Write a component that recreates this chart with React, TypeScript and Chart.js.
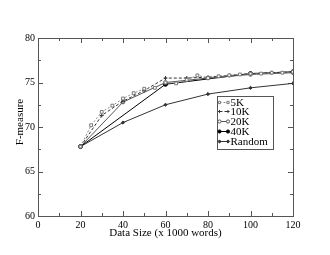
import React, { useEffect, useRef } from "react";
import { Chart, registerables } from "chart.js";
Chart.register(...registerables);

const sizes5K = [20, 25, 30, 35, 40, 45, 50, 55, 60, 65, 70, 75, 80, 85, 90, 95, 100, 105, 110, 115, 120];
const values5K = [67.8, 70.2, 71.7, 72.4, 73.2, 73.8, 74.3, 74.4, 75.0, 74.9, 75.3, 75.8, 75.5, 75.7, 75.8, 75.9, 76.0, 76.0, 76.1, 76.1, 76.2];
const sizes10K = [20, 30, 40, 50, 60, 70, 80, 90, 100, 110, 120];
const values10K = [67.8, 71.3, 72.9, 74.1, 75.5, 75.5, 75.6, 75.8, 76.0, 76.1, 76.2];
const sizes20K = [20, 40, 60, 80, 100, 120];
const values20K = [67.8, 72.8, 75.0, 75.5, 75.9, 76.1];
const sizes40K = [20, 60, 100, 120];
const values40K = [67.8, 74.8, 76.0, 76.2];
const sizesRandom = [20, 40, 60, 80, 100, 120];
const valuesRandom = [67.8, 70.5, 72.5, 73.7, 74.4, 74.9];

const seriesLabels = ["5K", "10K", "20K", "40K", "Random"];
const xTitle = "Data Size (x 1000 words)";
const yTitle = "F-measure";

const FONT = "'Liberation Serif', 'Times New Roman', serif";
const FRAME = "#555";

const pts = (xs: number[], ys: number[]) => xs.map((x, i) => ({ x, y: ys[i] }));

function drawMarker(ctx: CanvasRenderingContext2D, style: string, x: number, y: number, r: number, fill: string, stroke: string) {
  ctx.save();
  ctx.strokeStyle = stroke;
  ctx.fillStyle = fill;
  ctx.lineWidth = 1;
  ctx.setLineDash([]);
  ctx.beginPath();
  if (style === "rect") {
    const s = r * 1.4;
    ctx.rect(x - s / 2, y - s / 2, s, s);
    ctx.fill();
    ctx.stroke();
  } else if (style === "cross") {
    ctx.moveTo(x - r, y);
    ctx.lineTo(x + r, y);
    ctx.moveTo(x, y - r);
    ctx.lineTo(x, y + r);
    ctx.stroke();
  } else if (style === "rectRot") {
    ctx.moveTo(x, y - r);
    ctx.lineTo(x + r, y);
    ctx.lineTo(x, y + r);
    ctx.lineTo(x - r, y);
    ctx.closePath();
    ctx.fill();
    ctx.stroke();
  } else {
    ctx.arc(x, y, r, 0, Math.PI * 2);
    ctx.fill();
    ctx.stroke();
  }
  ctx.restore();
}

const framePlugin = {
  id: "frameTicks",
  beforeDatasetsDraw(chart: any) {
    const { ctx, chartArea: a, scales } = chart;
    const xs = scales.x;
    const ys = scales.y;
    ctx.save();
    ctx.strokeStyle = FRAME;
    ctx.lineWidth = 1;
    ctx.strokeRect(Math.round(a.left) + 0.5, Math.round(a.top) + 0.5, Math.round(a.right - a.left), Math.round(a.bottom - a.top));
    ctx.beginPath();
    for (let v = xs.min; v <= xs.max + 1e-6; v += 10) {
      const px = Math.round(xs.getPixelForValue(v)) + 0.5;
      const len = v % 20 === 0 ? 5 : 3;
      ctx.moveTo(px, a.bottom);
      ctx.lineTo(px, a.bottom - len);
      ctx.moveTo(px, a.top);
      ctx.lineTo(px, a.top + len);
    }
    for (let v = ys.min; v <= ys.max + 1e-6; v += 2.5) {
      const py = Math.round(ys.getPixelForValue(v)) + 0.5;
      const len = v % 5 === 0 ? 5 : 3;
      ctx.moveTo(a.left, py);
      ctx.lineTo(a.left + len, py);
      ctx.moveTo(a.right, py);
      ctx.lineTo(a.right - len, py);
    }
    ctx.stroke();
    // y-axis title (drawn here to match the original's placement)
    ctx.fillStyle = "#000";
    ctx.font = `11px ${FONT}`;
    ctx.textAlign = "center";
    ctx.textBaseline = "middle";
    ctx.translate(20, (a.top + a.bottom) / 2 - 5);
    ctx.rotate(-Math.PI / 2);
    ctx.fillText(yTitle, 0, 0);
    ctx.restore();
  },
};

const legendPlugin = {
  id: "boxLegend",
  afterDraw(chart: any) {
    const { ctx, chartArea: a } = chart;
    const bx = a.right - 76;
    const by = a.top + 58;
    const bw = 56;
    const bh = 53;
    ctx.save();
    ctx.fillStyle = "#fff";
    ctx.fillRect(bx, by, bw, bh);
    ctx.strokeStyle = FRAME;
    ctx.lineWidth = 1;
    ctx.strokeRect(bx + 0.5, by + 0.5, bw, bh);
    ctx.font = `11px ${FONT}`;
    ctx.textBaseline = "middle";
    ctx.textAlign = "left";
    chart.data.datasets.forEach((ds: any, i: number) => {
      const y = Math.round(by + 5.5 + i * 9.8) + 0.5;
      const x1 = bx + 2.5;
      const x2 = bx + 11;
      ctx.save();
      ctx.strokeStyle = ds.borderColor;
      ctx.lineWidth = 1;
      ctx.setLineDash(ds.borderDash || []);
      ctx.beginPath();
      ctx.moveTo(x1, y);
      ctx.lineTo(x2, y);
      ctx.stroke();
      ctx.restore();
      const r = Math.min(ds.pointRadius, 1.6);
      drawMarker(ctx, ds.pointStyle, x1, y, r, ds.pointBackgroundColor, ds.pointBorderColor);
      drawMarker(ctx, ds.pointStyle, x2, y, r, ds.pointBackgroundColor, ds.pointBorderColor);
      ctx.fillStyle = "#000";
      ctx.fillText(ds.label, bx + 13.5, y + 0.5);
    });
    ctx.restore();
  },
};

export default function App() {
  const ref = useRef<HTMLCanvasElement | null>(null);
  useEffect(() => {
    document.body.style.margin = "0";
    const canvas = ref.current!;
    const chart = new Chart(canvas, {
      type: "line",
      data: {
        datasets: [
          {
            label: seriesLabels[0],
            data: pts(sizes5K, values5K),
            borderColor: "#8a8a8a",
            borderDash: [2, 2],
            borderWidth: 1,
            pointStyle: "rect",
            pointRadius: 2,
            pointBackgroundColor: "#fff",
            pointBorderColor: "#777",
            pointBorderWidth: 1,
          },
          {
            label: seriesLabels[1],
            data: pts(sizes10K, values10K),
            borderColor: "#333",
            borderDash: [3, 2],
            borderWidth: 1,
            pointStyle: "cross",
            pointRadius: 2,
            pointBackgroundColor: "#333",
            pointBorderColor: "#333",
            pointBorderWidth: 1,
          },
          {
            label: seriesLabels[2],
            data: pts(sizes20K, values20K),
            borderColor: "#555",
            borderWidth: 1,
            pointStyle: "circle",
            pointRadius: 1.8,
            pointBackgroundColor: "#fff",
            pointBorderColor: "#555",
            pointBorderWidth: 1,
          },
          {
            label: seriesLabels[3],
            data: pts(sizes40K, values40K),
            borderColor: "#000",
            borderWidth: 1,
            pointStyle: "circle",
            pointRadius: 2,
            pointBackgroundColor: "#000",
            pointBorderColor: "#000",
            pointBorderWidth: 1,
          },
          {
            label: seriesLabels[4],
            data: pts(sizesRandom, valuesRandom),
            borderColor: "#333",
            borderWidth: 1,
            pointStyle: "rectRot",
            pointRadius: 1.6,
            pointBackgroundColor: "#333",
            pointBorderColor: "#333",
            pointBorderWidth: 1,
          },
        ] as any,
      },
      options: {
        animation: false,
        responsive: false,
        events: [],
        layout: { padding: { left: 0, right: 37, top: 38, bottom: 0 } },
        plugins: { legend: { display: false }, tooltip: { enabled: false } },
        elements: { line: { tension: 0 } },
        scales: {
          x: {
            type: "linear",
            min: 0,
            max: 120,
            grid: { display: false, drawTicks: false },
            border: { display: false },
            ticks: { stepSize: 20, color: "#000", padding: 3, font: { family: FONT, size: 10 }, maxRotation: 0 },
            title: { display: true, text: xTitle, color: "#000", font: { family: FONT, size: 11 }, padding: { top: 0, bottom: 15 } },
            afterFit: (s: any) => { s.height = 39; },
          },
          y: {
            type: "linear",
            min: 60,
            max: 80,
            grid: { display: false, drawTicks: false },
            border: { display: false },
            ticks: { stepSize: 5, color: "#000", padding: 3, font: { family: FONT, size: 10 } },
            title: { display: false },
            afterFit: (s: any) => { s.width = 38; },
          },
        },
      } as any,
      plugins: [framePlugin, legendPlugin],
    });
    return () => chart.destroy();
  }, []);
  return (
    <div style={{ position: "absolute", left: 0, top: 0, width: 330, height: 255, background: "#fff" }}>
      <canvas ref={ref} width={330} height={255} />
    </div>
  );
}
